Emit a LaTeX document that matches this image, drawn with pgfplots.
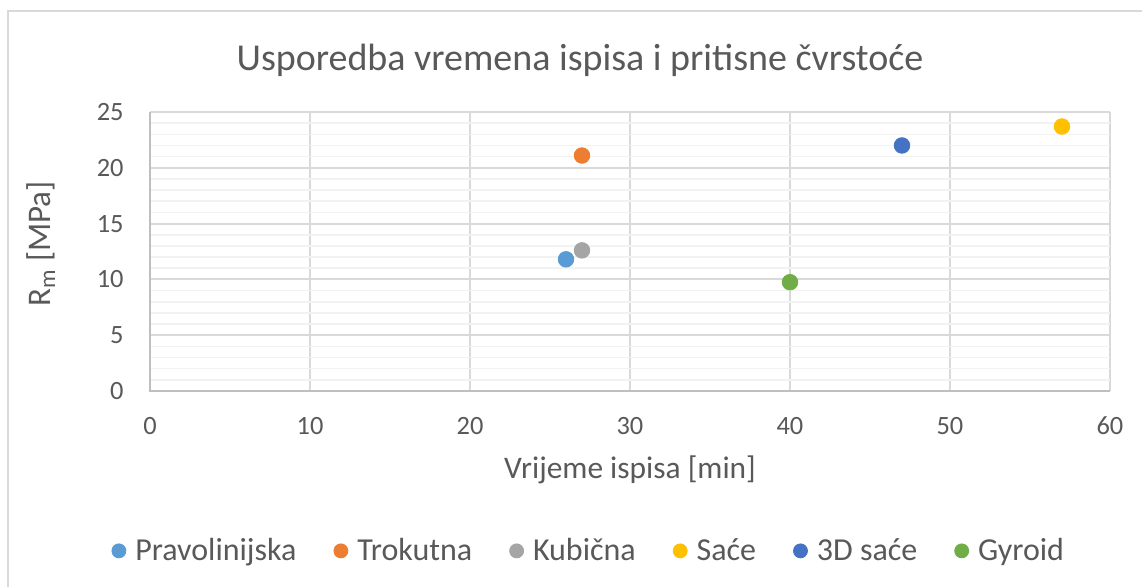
\documentclass[border=0pt]{standalone}
\usepackage{fontspec}
\setmainfont{Carlito}
\usepackage{pgfplots}
\pgfplotsset{compat=1.18}
\definecolor{cBlue}{HTML}{5B9BD5}
\definecolor{cOrange}{HTML}{ED7D31}
\definecolor{cGray}{HTML}{A5A5A5}
\definecolor{cYellow}{HTML}{FFC000}
\definecolor{cDBlue}{HTML}{4472C4}
\definecolor{cGreen}{HTML}{70AD47}
\definecolor{txt}{HTML}{595959}
\definecolor{gridmaj}{HTML}{D9D9D9}
\definecolor{gridmin}{HTML}{F2F2F2}
\definecolor{axl}{HTML}{BFBFBF}
\begin{document}
\begin{tikzpicture}
\useasboundingbox (0,0) rectangle (571pt,293pt);
\fill[white] (0,0) rectangle (571pt,293pt);
\draw[color=gridmaj, line width=1pt] (4pt,-5pt) -- (4pt,287.5pt) -- (580pt,287.5pt);
\begin{axis}[
  at={(75pt,97.5pt)}, anchor=south west,
  scale only axis, width=480pt, height=139.5pt,
  xmin=0, xmax=60, ymin=0, ymax=25,
  xtick={0,10,20,30,40,50,60},
  ytick={0,5,10,15,20,25},
  minor y tick num=4,
  major tick length=0pt, minor tick length=0pt,
  xmajorgrids, ymajorgrids, yminorgrids,
  major grid style={color=gridmaj, line width=1pt},
  minor grid style={color=gridmin, line width=0.8pt},
  axis line style={draw=none},
  /pgf/number format/assume math mode=true,
  tick label style={font=\fontsize{13.2pt}{15pt}\selectfont, text=txt},
  xticklabel style={anchor=base, yshift=-21.5pt},
  yticklabel style={anchor=east, inner sep=0pt, xshift=-13pt},
  legend columns=6,
  legend style={at={(axis description cs:0.456,-0.573)}, anchor=center, draw=none, fill=none,
    font=\fontsize{16pt}{18pt}\selectfont, text=txt,
    nodes={inner sep=0pt},
    /tikz/every odd column/.append style={column sep=4.5pt},
    /tikz/every even column/.append style={column sep=18.5pt}},
  legend image code/.code={\fill[#1] (3.5pt,0pt) circle (3.5pt);},
  clip=false,
]
\draw[color=axl, line width=1pt] (axis cs:0,25) -- (axis cs:0,0) -- (axis cs:60,0);
\addplot[only marks, mark=*, color=cBlue, mark size=3.9pt] coordinates {(26,11.8)};
\addlegendentry{Pravolinijska}
\addplot[only marks, mark=*, color=cOrange, mark size=3.9pt] coordinates {(27,21.1)};
\addlegendentry{Trokutna}
\addplot[only marks, mark=*, color=cGray, mark size=3.9pt] coordinates {(27,12.6)};
\addlegendentry{Kubična}
\addplot[only marks, mark=*, color=cYellow, mark size=3.9pt] coordinates {(57,23.7)};
\addlegendentry{Saće}
\addplot[only marks, mark=*, color=cDBlue, mark size=3.9pt] coordinates {(47,22.0)};
\addlegendentry{3D saće}
\addplot[only marks, mark=*, color=cGreen, mark size=3.9pt] coordinates {(40,9.75)};
\addlegendentry{Gyroid}
\end{axis}
\node[anchor=base, text=txt, font=\fontsize{19pt}{22pt}\selectfont] at (290pt,258pt) {Usporedba vremena ispisa i pritisne čvrstoće};
\node[anchor=base, text=txt, font=\fontsize{15.7pt}{18pt}\selectfont] at (315pt,54pt) {Vrijeme ispisa [min]};
\node[anchor=base, rotate=90, text=txt, font=\fontsize{16.5pt}{19pt}\selectfont] at (25pt,171pt) {R\textsubscript{m} [MPa]};
\end{tikzpicture}
\end{document}
